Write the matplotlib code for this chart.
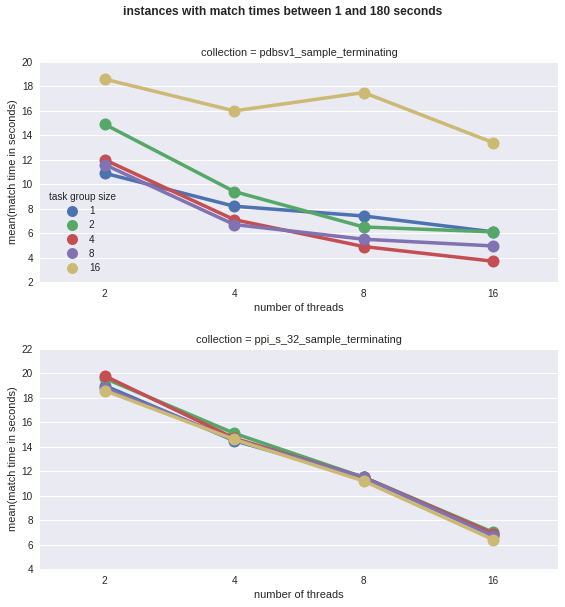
import matplotlib
matplotlib.use("Agg")
import matplotlib.pyplot as plt
import numpy as np

threads = ["2", "4", "8", "16"]
groups = ["1", "2", "4", "8", "16"]
colors = ["#4C72B0", "#55A868", "#C44E52", "#8172B2", "#CCB974"]

pdbsv1 = {
    "1": [10.9, 8.2, 7.4, 6.1],
    "2": [14.9, 9.4, 6.5, 6.1],
    "4": [12.0, 7.1, 4.9, 3.7],
    "8": [11.6, 6.7, 5.5, 4.95],
    "16": [18.6, 16.0, 17.5, 13.4],
}
ppi = {
    "1": [19.0, 14.5, 11.5, 6.9],
    "2": [19.6, 15.1, 11.5, 7.0],
    "4": [19.8, 14.7, 11.5, 6.9],
    "8": [18.8, 14.6, 11.5, 6.7],
    "16": [18.6, 14.6, 11.2, 6.4],
}
titles = ["collection = pdbsv1_sample_terminating", "collection = ppi_s_32_sample_terminating"]
yticks_top = [2, 4, 6, 8, 10, 12, 14, 16, 18, 20]
yticks_bot = [4, 6, 8, 10, 12, 14, 16, 18, 20, 22]

plt.rcParams["font.family"] = ["Liberation Sans", "DejaVu Sans"]
plt.rcParams["text.color"] = "#262626"
plt.rcParams["axes.labelcolor"] = "#262626"
plt.rcParams["xtick.color"] = "#262626"
plt.rcParams["ytick.color"] = "#262626"

DPI = 72
fig = plt.figure(figsize=(565 / DPI, 607 / DPI), dpi=DPI)
W, H = 565, 607
def rect(l, t, r, b):
    return [l / W, 1 - b / H, (r - l) / W, (b - t) / H]

ax1 = fig.add_axes(rect(40, 62, 558, 282))
ax2 = fig.add_axes(rect(40, 349, 558, 569))

x = np.arange(len(threads))
for ax, data, title, yt in [(ax1, pdbsv1, titles[0], yticks_top), (ax2, ppi, titles[1], yticks_bot)]:
    ax.set_facecolor("#EAEAF2")
    for s in ax.spines.values():
        s.set_visible(False)
    ax.set_axisbelow(True)
    ax.yaxis.grid(True, color="white", linewidth=1.0)
    ax.xaxis.grid(False)
    for g, c in zip(groups, colors):
        ax.plot(x, data[g], color=c, linewidth=3.5, solid_capstyle="round",
                marker="o", markersize=12, markeredgewidth=0, label=g)
    ax.set_xlim(-0.5, 3.5)
    ax.set_ylim(yt[0], yt[-1])
    ax.set_yticks(yt)
    ax.set_xticks(x)
    ax.set_xticklabels(threads)
    ax.tick_params(length=0, labelsize=10, pad=7)
    ax.set_ylabel("mean(match time in seconds)", fontsize=11)
    ax.set_xlabel("number of threads", fontsize=11, labelpad=4)
    ax.set_title(title, fontsize=11, pad=6)

leg = ax1.legend(title="task group size", loc="lower left", bbox_to_anchor=(0.0, 0.0),
                 frameon=False, fontsize=10, title_fontsize=10, handlelength=1.5,
                 numpoints=1, labelspacing=0.42, handletextpad=0.9)
for h in leg.legend_handles:
    h.set_linestyle("")
    h.set_markersize(11)

fig.suptitle("instances with match times between 1 and 180 seconds", fontsize=12,
             fontweight="bold", y=1 - 12 / H, va="center")
fig.savefig("out.png", dpi=DPI)
